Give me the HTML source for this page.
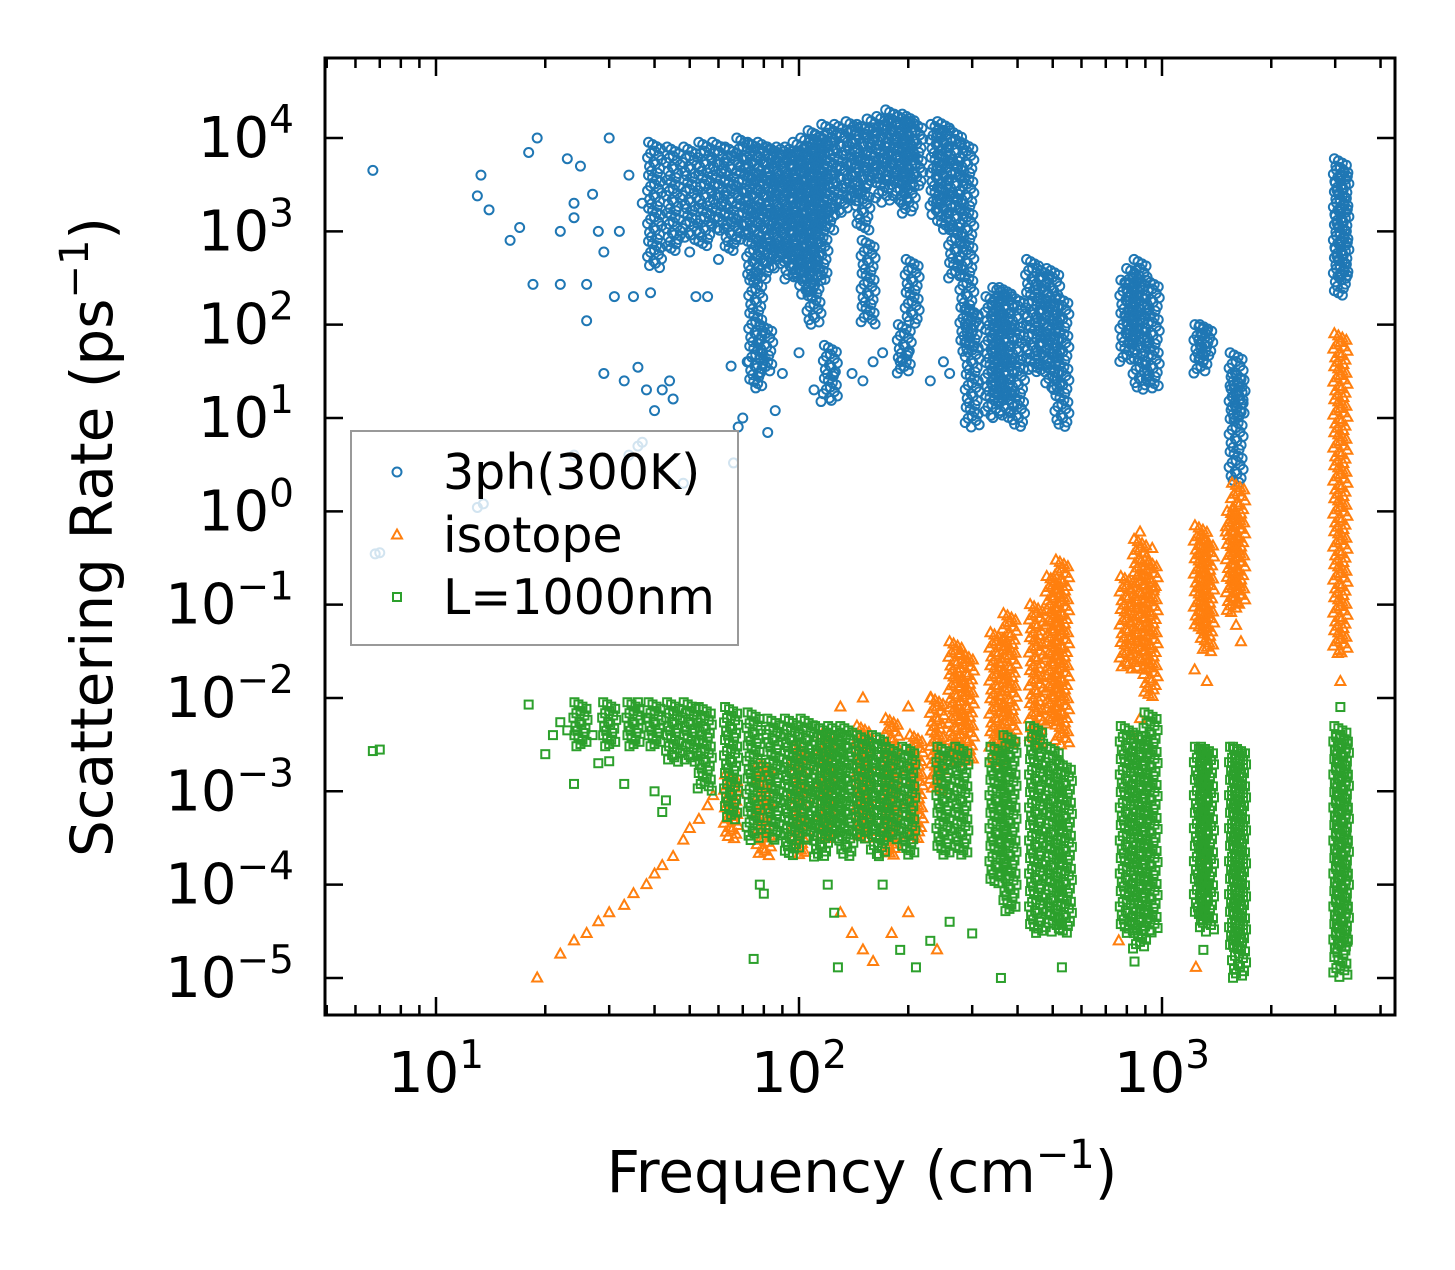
<!DOCTYPE html>
<html><head><meta charset="utf-8"><style>
html,body{margin:0;padding:0;background:#fff;}
svg text{font-family:"DejaVu Sans","Liberation Sans",sans-serif;fill:#000;}
</style></head><body>
<svg id="chart" width="1455" height="1265" viewBox="0 0 1455 1265" xmlns="http://www.w3.org/2000/svg">
<rect width="1455" height="1265" fill="#fff"/>
<g id="marks"></g>
<g id="axes"></g>
<g id="legend"></g>
</svg>
<script>
// ---- data (frequency cm^-1, rate ps^-1) ----
const xTickExps = [1, 2, 3];
const yTickExps = [4, 3, 2, 1, 0, -1, -2, -3, -4, -5];
const seriesNames = ["3ph(300K)", "isotope", "L=1000nm"];
// dense vertical clusters: [freq, low, high]
const blueColumns = [[40,400,9000],[45,600,8000],[50,800,8000],[55,700,9000],[60,1000,9000],[65,600,8000],[70,800,10000],[75,300,9000],[76,20,300],[80,300,9000],[81,30,100],[85,400,8000],[90,500,8000],[95,300,8000],[100,300,9000],[105,200,10000],[110,100,12000],[115,300,11000],[120,1000,14000],[122,15,60],[130,1500,14000],[140,2000,15000],[150,1000,14000],[155,100,800],[160,3000,16000],[170,2000,17000],[180,3000,20000],[190,2000,18000],[195,30,100],[200,1500,18000],[205,100,500],[210,3000,15000],[240,1500,14000],[250,1000,15000],[270,300,12000],[290,50,9000],[300,8,150],[340,10,200],[355,15,250],[370,10,250],[400,8,200],[440,30,500],[470,30,400],[500,20,400],[530,8,200],[800,40,300],[830,60,400],[870,20,500],[940,20,300],[1280,30,100],[1320,40,100],[1600,2,50],[1620,10,30],[3100,200,6000],[3130,300,5000]];
const blueScatter = [[6.7,4500],[13,2400],[13.3,4000],[14,1700],[16,800],[17,1100],[18,7000],[18.5,270],[19,10000],[22,1000],[22,270],[23,6000],[24,2000],[24,1400],[25,5000],[26,110],[26,270],[27,2500],[28,1000],[29,600],[29,30],[30,10000],[31,200],[32,1000],[33,25],[34,4000],[35,200],[36,35],[37,2000],[38,20],[39,220],[40,12],[42,20],[44,25],[45,16],[47,900],[50,600],[52,200],[56,200],[60,500],[65,36],[68,8],[70,10],[72,40],[78,30],[82,7],[86,12],[90,30],[100,50],[110,20],[115,15],[125,30],[140,30],[150,25],[160,40],[170,50],[190,40],[200,50],[230,25],[250,40],[260,30],[6.8,0.35],[7,0.36],[13,1.1],[13.5,1.2],[24,4],[34,4],[36,5],[37,5.5],[48,2],[66,3.3]];
const orangeColumns = [[65,3e-4,1.5e-3],[80,2e-4,2e-3],[100,2e-4,3e-3],[120,3e-4,4e-3],[150,3e-4,5e-3],[180,2e-4,6e-3],[210,3e-4,4e-3],[240,1e-3,1e-2],[270,2e-3,4e-2],[290,2e-3,3e-2],[350,2e-3,5e-2],[380,3e-3,8e-2],[450,3e-3,0.1],[500,5e-3,0.2],[530,3e-3,0.3],[800,2e-2,0.2],[870,2e-2,0.5],[930,1e-2,0.3],[1280,5e-2,0.7],[1330,3e-2,0.5],[1570,8e-2,1],[1620,0.1,2],[3100,0.03,80]];
const orangeScatter = [[19,1e-5],[22,1.8e-5],[24,2.5e-5],[26,3e-5],[28,4e-5],[30,5e-5],[33,6e-5],[35,8e-5],[38,1e-4],[40,1.3e-4],[42,1.6e-4],[45,2e-4],[48,3e-4],[50,4e-4],[53,5e-4],[56,7e-4],[58,9e-4],[130,5e-5],[140,3e-5],[150,2e-5],[160,1.5e-5],[180,3e-5],[200,5e-5],[240,2e-5],[760,2.5e-5],[1240,1.3e-5],[1300,2e-4],[1600,6e-2],[1650,4e-2],[3050,3e-2],[3100,1.5e-2],[830,4e-3],[870,6e-3],[1230,2e-2],[1330,1.5e-2],[870,0.6],[940,0.4],[1500,0.6],[950,0.15],[130,8e-3],[150,1e-2],[200,8e-3],[230,1e-2]];
const greenColumns = [[25,3e-3,9e-3],[30,3e-3,9e-3],[35,3e-3,9e-3],[40,3e-3,9e-3],[45,2e-3,9e-3],[50,2e-3,9e-3],[55,1e-3,8e-3],[65,5e-4,8e-3],[75,3e-4,7e-3],[85,3e-4,6e-3],[95,2e-4,6e-3],[105,3e-4,6e-3],[115,2e-4,5e-3],[125,3e-4,5e-3],[135,2e-4,5e-3],[150,3e-4,4e-3],[165,2e-4,4e-3],[180,3e-4,3e-3],[200,2e-4,3e-3],[250,2e-4,3e-3],[280,2e-4,3e-3],[350,1e-4,3e-3],[380,5e-5,4e-3],[450,3e-5,5e-3],[500,3e-5,3e-3],[540,3e-5,2e-3],[800,3e-5,5e-3],[870,2e-5,4e-3],[930,3e-5,7e-3],[1280,4e-5,3e-3],[1330,3e-5,3e-3],[1600,2e-5,3e-3],[1630,1e-5,3e-3],[3100,1e-5,5e-3],[3130,2e-5,4e-3]];
const greenScatter = [[6.7,2.7e-3],[7,2.8e-3],[18,8.5e-3],[20,2.5e-3],[21,4e-3],[22,5.5e-3],[23,4.5e-3],[24,1.2e-3],[27,4e-3],[28,2e-3],[30,2.1e-3],[33,1.2e-3],[40,1e-3],[42,6e-4],[43,8e-4],[36,9e-3],[38,6e-3],[75,1.6e-5],[80,8e-5],[78,1e-4],[100,2.5e-4],[110,2e-4],[120,1e-4],[125,5e-5],[128,1.3e-5],[170,1e-4],[190,2e-5],[210,1.3e-5],[230,2.5e-5],[260,4e-5],[300,3e-5],[360,1e-5],[530,1.3e-5],[1300,2e-5],[840,1.5e-5],[3100,8e-3]];

// ---- axes functions ----
const PL=325, PR=1395, PT=58, PB=1015;
const xOf = f => 436 + (Math.log10(f) - 1) * 363;
const yOf = v => 138 + (4 - Math.log10(v)) * 93.33;
const NS="http://www.w3.org/2000/svg";
function mk(tag, attrs, parent){const e=document.createElementNS(NS,tag);for(const k in attrs)e.setAttribute(k,attrs[k]);parent.appendChild(e);return e;}
const marks=document.getElementById('marks'), axes=document.getElementById('axes'), legend=document.getElementById('legend');
const colors=["#1f77b4","#ff7f0e","#2ca02c"];
function marker(kind,cx,cy,parent){
  let e;
  if(kind===0){e=mk('circle',{cx:cx,cy:cy,r:4.5,fill:'none',stroke:colors[0],'stroke-width':2},parent);}
  else if(kind===1){e=mk('polygon',{points:`${cx},${cy-5.5} ${cx+5},${cy+3.5} ${cx-5},${cy+3.5}`,fill:'none',stroke:colors[1],'stroke-width':2},parent);}
  else {e=mk('rect',{x:cx-4,y:cy-4,width:8,height:8,fill:'none',stroke:colors[2],'stroke-width':2},parent);}
  return e;
}
const jitter=[-6,-2,2,6,0,-4,4,-7,7,-1,1,-5,5,-3,3];
function drawColumns(cols,kind,name){
  cols.forEach(c=>{
    const x=xOf(c[0]), y1=yOf(c[2]), y2=yOf(c[1]);
    let i=0;
    for(let y=y1;y<=y2;y+=2.2){
      const e=marker(kind,x+jitter[i%jitter.length],y,marks);
      
      
      i++;
    }
  });
}
function drawScatter(pts,kind,name){
  pts.forEach(p=>{
    const e=marker(kind,xOf(p[0]),yOf(p[1]),marks);
    
    
  });
}
drawColumns(blueColumns,0,'3ph');drawScatter(blueScatter,0,'3ph');
drawColumns(orangeColumns,1,'isotope');drawScatter(orangeScatter,1,'isotope');
drawColumns(greenColumns,2,'boundary');drawScatter(greenScatter,2,'boundary');

// frame
const fr=mk('rect',{x:PL,y:PT,width:PR-PL,height:PB-PT,fill:'none',stroke:'#000','stroke-width':3},axes);

// x ticks
for(let d=0;d<=3;d++){for(let m=1;m<10;m++){
  const f=m*Math.pow(10,d);const x=xOf(f);if(x<PL||x>PR)continue;
  const len=m===1?18:10;
  mk('line',{x1:x,y1:PB,x2:x,y2:PB-len,stroke:'#000','stroke-width':2.5},axes);
  mk('line',{x1:x,y1:PT,x2:x,y2:PT+len,stroke:'#000','stroke-width':2.5},axes);
}}
xTickExps.forEach(e=>{
  const t=mk('text',{x:xOf(Math.pow(10,e)),y:1092,'font-size':56,'text-anchor':'middle'},axes);
  
  t.innerHTML=`10<tspan dy="-24" font-size="39">${e}</tspan>`;
});
yTickExps.forEach(e=>{
  const y=yOf(Math.pow(10,e));
  mk('line',{x1:PL,y1:y,x2:PL+18,y2:y,stroke:'#000','stroke-width':2.5},axes);
  mk('line',{x1:PR,y1:y,x2:PR-18,y2:y,stroke:'#000','stroke-width':2.5},axes);
  const t=mk('text',{x:294,y:y+19,'font-size':56,'text-anchor':'end'},axes);
  
  const ex=e<0?'\u2212'+(-e):''+e;
  t.innerHTML=`10<tspan dy="-24" font-size="39">${ex}</tspan>`;
});
const xt=mk('text',{x:862,y:1192,'font-size':58,'text-anchor':'middle'},axes);

xt.innerHTML='Frequency (cm<tspan dy="-24" font-size="40">\u22121</tspan><tspan dy="24">)</tspan>';
const yt=mk('text',{x:0,y:0,'font-size':58,'text-anchor':'middle',transform:'translate(112,537) rotate(-90)'},axes);

yt.innerHTML='Scattering Rate (ps<tspan dy="-24" font-size="40">\u22121</tspan><tspan dy="24">)</tspan>';

// legend
const lb=mk('rect',{x:351,y:431,width:387,height:214,fill:'#fff','fill-opacity':0.8,stroke:'#999','stroke-width':2},legend);

const ly=[472,535,597];
seriesNames.forEach((n,i)=>{
  const m=marker(i,397,ly[i],legend);
  
  const t=mk('text',{x:443,y:ly[i]+17,'font-size':49},legend);
  
  t.textContent=n;
});
</script>
</body></html>
